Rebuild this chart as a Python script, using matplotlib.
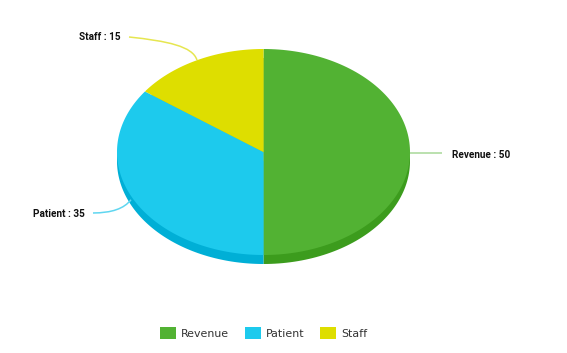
import numpy as np
import matplotlib
matplotlib.use("Agg")
import matplotlib.pyplot as plt
from matplotlib.path import Path
from matplotlib.patches import PathPatch, Polygon, Rectangle

labels = ["Revenue", "Patient", "Staff"]
values = [50, 35, 15]
colors = ["#52b233", "#1dcaed", "#dede00"]
side_colors = ["#3c9c1d", "#00afd6", "#c4c400"]
line_colors = ["#a8d998", "#5fd6f0", "#e6e650"]

# pie geometry in pixel coords
cx, cy, rx, ry, depth = 263.5, 152, 146.5, 103, 9

fig = plt.figure(figsize=(5.67, 3.53), dpi=100)
ax = fig.add_axes([0, 0, 1, 1])
ax.set_xlim(0, 567)
ax.set_ylim(353, 0)
ax.axis("off")


def wedge(a0, a1, dy=0):
    t = np.radians(np.linspace(a0, a1, 120))
    xs = np.concatenate([[cx], cx + rx * np.cos(t)])
    ys = np.concatenate([[cy + dy], cy + dy - ry * np.sin(t)])
    return np.column_stack([xs, ys])


total = sum(values)
angles = []
start = 90.0
for v in values:
    end = start - 360.0 * v / total
    angles.append((start, end))
    start = end

# side (depth) first, then top face
for (a0, a1), c in zip(angles, side_colors):
    ax.add_patch(Polygon(wedge(a0, a1, depth), closed=True, fc=c, ec="none"))
for (a0, a1), c in zip(angles, colors):
    ax.add_patch(Polygon(wedge(a0, a1), closed=True, fc=c, ec="none", lw=0))

# labels with leader lines
label_pos = [(452, 155, "left"), (85, 214, "right"), (121, 37, "right")]
for i, ((a0, a1), lab, v) in enumerate(zip(angles, labels, values)):
    m = np.radians((a0 + a1) / 2)
    px, py = cx + rx * np.cos(m), cy - ry * np.sin(m)
    lx, ly, ha = label_pos[i]
    ex = lx - 10 if ha == "left" else lx + 8
    if i == 0:
        verts = [(px, py + 1), (ex, py + 1)]
        codes = [Path.MOVETO, Path.LINETO]
    elif i == 1:
        verts = [(px - 2, py + 1), (px - 12, ly - 1), (ex, ly - 1)]
        codes = [Path.MOVETO, Path.CURVE3, Path.CURVE3]
    else:
        verts = [(px, py), (px - 4, py - 14), (px - 30, ly + 4), (ex, ly)]
        codes = [Path.MOVETO, Path.CURVE4, Path.CURVE4, Path.CURVE4]
    ax.add_patch(PathPatch(Path(verts, codes), fc="none", ec=line_colors[i], lw=1.1))
    ax.text(lx, ly, f"{lab} : {v}", ha=ha, va="center", fontsize=7.2,
            fontweight="bold", color="#111111", family="Roboto")

# legend
leg_x = [160, 245, 320]
for x, lab, c in zip(leg_x, labels, colors):
    ax.add_patch(Rectangle((x, 327), 16, 12, fc=c, ec="none"))
    ax.text(x + 21, 334, lab, ha="left", va="center", fontsize=7.9,
            color="#333333", family="DejaVu Sans")

fig.savefig("out.png", dpi=100)
